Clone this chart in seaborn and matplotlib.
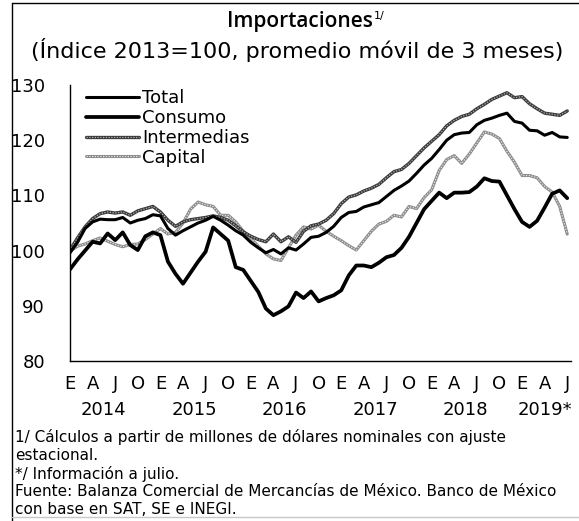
import numpy as np
import pandas as pd
import matplotlib.pyplot as plt
import seaborn as sns
from matplotlib.legend_handler import HandlerTuple
from matplotlib.lines import Line2D

sns.set_theme(style="white")
plt.rcParams['font.family'] = ['DejaVu Sans']
plt.rcParams['text.color'] = 'black'
plt.rcParams['xtick.color'] = 'black'
plt.rcParams['ytick.color'] = 'black'


# DATOS (ene 2014 - jul 2019, indice 2013=100)
total = [99.6, 101.5, 104.0, 105.2, 105.7, 105.6, 105.6, 106.0, 105.0, 105.5,
         105.8, 106.5, 106.3, 104.0, 102.8, 103.6, 104.3, 105.0, 105.5, 106.2,
         105.5, 104.6, 103.6, 102.8, 101.5, 100.5, 99.6, 100.2, 99.4, 100.5,
         100.1, 101.2, 102.4, 102.6, 103.3, 104.4, 106.0, 106.9, 107.1, 107.9,
         108.3, 108.7, 109.8, 110.9, 111.7, 112.6, 114.0, 115.5, 116.7, 118.3,
         120.0, 121.0, 121.3, 121.4, 122.8, 123.6, 124.0, 124.5, 124.9, 123.4,
         123.1, 121.8, 121.7, 120.9, 121.4, 120.6, 120.5]

consumo = [96.6, 98.4, 100.0, 101.6, 101.3, 103.1, 101.9, 103.3, 101.0, 100.1,
           102.6, 103.3, 102.8, 98.0, 95.8, 94.0, 96.0, 98.0, 99.8, 104.2,
           103.0, 101.8, 97.0, 96.5, 94.5, 92.5, 89.5, 88.3, 89.0, 89.9,
           92.4, 91.4, 92.6, 90.8, 91.4, 91.9, 92.8, 95.5, 97.3, 97.3,
           97.0, 97.8, 98.8, 99.2, 100.5, 102.5, 105.0, 107.5, 109.0, 110.5,
           109.5, 110.5, 110.5, 110.6, 111.6, 113.1, 112.6, 112.5, 110.0, 107.5,
           105.2, 104.3, 105.4, 107.8, 110.3, 110.9, 109.5]

intermedias = [100.1, 102.3, 104.3, 105.8, 106.7, 107.0, 106.8, 107.0, 106.4, 107.2,
               107.6, 108.0, 107.0, 105.5, 104.4, 105.2, 105.6, 105.8, 106.0, 106.3,
               106.0, 105.5, 104.5, 103.4, 102.6, 102.0, 101.6, 103.0, 101.6, 102.5,
               101.5, 103.5, 104.5, 104.8, 105.5, 106.7, 108.5, 109.7, 110.1, 110.8,
               111.3, 112.0, 113.2, 114.3, 114.7, 115.8, 117.2, 118.6, 119.8, 121.0,
               122.6, 123.6, 124.3, 124.7, 125.7, 126.5, 127.4, 128.0, 128.6, 127.7,
               127.9, 126.6, 125.7, 124.9, 124.7, 124.5, 125.3]

capital = [99.9, 100.8, 101.2, 101.8, 102.3, 101.7, 101.1, 100.7, 101.1, 101.2,
           102.0, 103.0, 104.0, 103.0, 103.3, 105.0, 107.5, 108.8, 108.3, 108.0,
           106.4, 106.4, 105.2, 103.5, 102.2, 100.8, 99.4, 98.5, 98.2, 100.5,
           102.8, 104.3, 103.9, 104.6, 103.5, 102.6, 101.8, 100.9, 100.1, 101.8,
           103.5, 104.8, 105.3, 106.4, 106.1, 108.0, 107.6, 109.6, 111.0, 114.5,
           116.5, 117.2, 115.8, 117.5, 119.5, 121.5, 121.1, 120.3, 118.0, 116.0,
           113.6, 113.6, 113.2, 111.6, 110.6, 108.0, 103.0]

meses = ["E", "A", "J", "O"] * 5 + ["E", "A", "J"]
anios = ["2014", "2015", "2016", "2017", "2018", "2019*"]
anios_pos = [4.5, 16.5, 28.5, 40.5, 52.5, 63.0]

df = pd.DataFrame({"mes": np.arange(len(total)), "Total": total, "Consumo": consumo,
                   "Intermedias": intermedias, "Capital": capital})


# GRAFICA
fig = plt.figure(figsize=(5.79, 5.21), dpi=100)
ax = fig.add_axes([70 / 579, 160 / 521, 501 / 579, 276 / 521])

sns.lineplot(data=df, x="mes", y="Capital", color="#8a8a8a", lw=2.2, ax=ax)
cap_base = ax.lines[-1]
sns.lineplot(data=df, x="mes", y="Capital", color="#e6e6e6", lw=0.9, ls=(0, (1, 1.2)), ax=ax)
cap_dot = ax.lines[-1]

sns.lineplot(data=df, x="mes", y="Intermedias", color="#3a3a3a", lw=2.4, ax=ax)
int_base = ax.lines[-1]
sns.lineplot(data=df, x="mes", y="Intermedias", color="#b0b0b0", lw=0.9, ls=(0, (1, 1.2)), ax=ax)
int_dot = ax.lines[-1]

sns.lineplot(data=df, x="mes", y="Total", color="black", lw=2.2, ax=ax)
tot_line = ax.lines[-1]
sns.lineplot(data=df, x="mes", y="Consumo", color="black", lw=2.7, ax=ax)
con_line = ax.lines[-1]

ax.set_xlim(0, 66.5)
ax.set_ylim(80, 130)
ax.set_yticks(range(80, 131, 10))
ax.set_xticks(range(0, 67, 3))
ax.set_xticklabels(meses)
ax.set_xlabel("")
ax.set_ylabel("")

for s in ["top", "right"]:
    ax.spines[s].set_visible(False)
for s in ["left", "bottom"]:
    ax.spines[s].set_color("black")
    ax.spines[s].set_linewidth(1)

ax.tick_params(axis="y", direction="in", length=5, width=1, color="black", pad=18, labelsize=13)
ax.tick_params(axis="x", length=0, pad=10, labelsize=13)

for a, p in zip(anios, anios_pos):
    ax.text(p, -0.178, a, transform=ax.get_xaxis_transform(), ha="center", va="center", fontsize=13)

ax.legend([tot_line, con_line, (int_base, int_dot), (cap_base, cap_dot)],
          ["Total", "Consumo", "Intermedias", "Capital"],
          handler_map={tuple: HandlerTuple(ndivide=1, pad=0)},
          loc="upper left", bbox_to_anchor=(0.0, 1.043), frameon=False,
          fontsize=13, handlelength=2.9, handletextpad=0.2, labelspacing=0.1)

# titulo
titulo = fig.text(0.518, 0.958, "Importaciones", ha="center", va="center", fontsize=15,
                  fontweight="semibold", family="Open Sans")
fig.canvas.draw()
bb = titulo.get_window_extent()
fig.text(bb.x1 / fig.bbox.width + 0.002, bb.y1 / fig.bbox.height, "1/", fontsize=8, va="top")
fig.text(0.513, 0.904, "(Índice 2013=100, promedio móvil de 3 meses)", ha="center", va="center", fontsize=16)

# notas
notas = ["1/ Cálculos a partir de millones de dólares nominales con ajuste",
         "estacional.",
         "*/ Información a julio.",
         "Fuente: Balanza Comercial de Mercancías de México. Banco de México",
         "con base en SAT, SE e INEGI."]
notas_y = [437, 455, 474, 492, 510]
for t, y in zip(notas, notas_y):
    fig.text(15 / 579, 1 - y / 521, t, ha="left", va="center", fontsize=11)

# marco
fig.add_artist(Line2D([12 / 579, 12 / 579], [0, 1 - 3 / 521], transform=fig.transFigure, color="black", lw=1))
fig.add_artist(Line2D([12 / 579, 1], [1 - 3 / 521, 1 - 3 / 521], transform=fig.transFigure, color="black", lw=1))
fig.add_artist(Line2D([12 / 579, 1], [4 / 521, 4 / 521], transform=fig.transFigure, color="#c8c8c8", lw=1))

fig.savefig("out.png", dpi=100)
